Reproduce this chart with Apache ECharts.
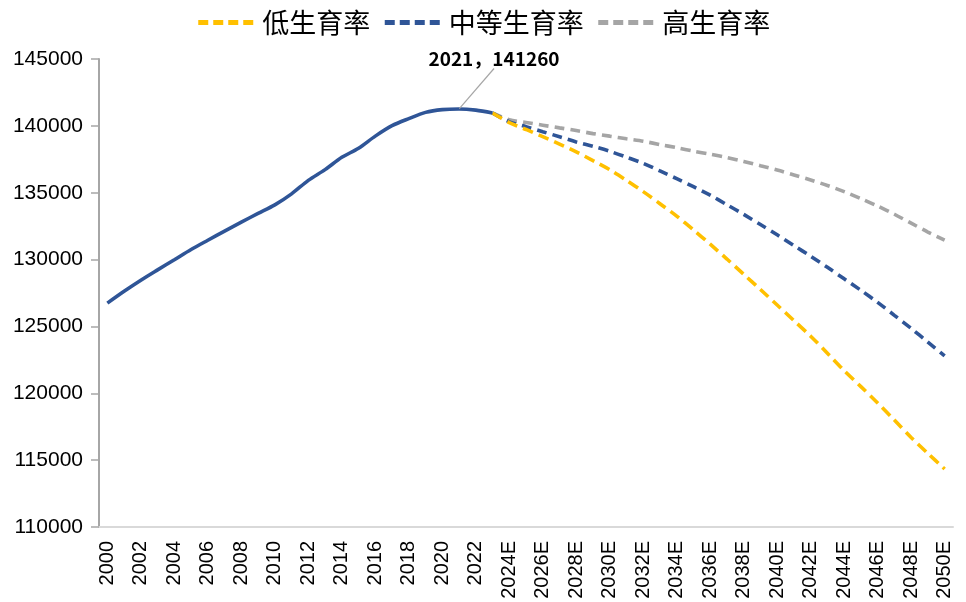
<!DOCTYPE html>
<html>
<head>
<meta charset="utf-8">
<script src="https://cdn.jsdelivr.net/npm/echarts@6/dist/echarts.min.js"></script>
<style>
  html, body { margin: 0; padding: 0; background: #ffffff; }
  #chart { width: 966px; height: 602px; }
</style>
</head>
<body>
<div id="chart"></div>
<script>
// 年份类目（2024 年起为预测值）
const categories = [
  '2000','2001','2002','2003','2004','2005','2006','2007','2008','2009',
  '2010','2011','2012','2013','2014','2015','2016','2017','2018','2019',
  '2020','2021','2022','2023','2024E','2025E','2026E','2027E','2028E','2029E',
  '2030E','2031E','2032E','2033E','2034E','2035E','2036E','2037E','2038E','2039E',
  '2040E','2041E','2042E','2043E','2044E','2045E','2046E','2047E','2048E','2049E',
  '2050E'
];

// 2000–2023 年末总人口（万人）
const actualPopulation = [
  126743, 127627, 128453, 129227, 129988, 130756, 131448, 132129, 132802, 133450,
  134091, 134916, 135922, 136726, 137646, 138326, 139232, 140011, 140541, 141008,
  141212, 141260, 141175, 140967
];

// 三种生育率情景，2023–2050E
const lowFertility = [
  140967, 140250, 139730, 139190, 138640, 138060, 137400, 136720, 135920, 135080,
  134180, 133250, 132220, 131150, 130040, 128900, 127760, 126600, 125440, 124270,
  123000, 121700, 120500, 119280, 118000, 116700, 115500, 114340
];
const midFertility = [
  140967, 140300, 139940, 139560, 139190, 138800, 138470, 138100, 137660, 137200,
  136630, 136050, 135450, 134820, 134100, 133380, 132620, 131850, 131050, 130250,
  129420, 128560, 127700, 126800, 125830, 124850, 123830, 122790
];
const highFertility = [
  140967, 140450, 140250, 140050, 139850, 139650, 139420, 139230, 139030, 138850,
  138600, 138370, 138110, 137880, 137630, 137340, 137020, 136700, 136330, 135950,
  135540, 135080, 134560, 134000, 133390, 132720, 132060, 131460
];

const scenarioNames = ['低生育率', '中等生育率', '高生育率'];
const scenarioColors = ['#FFC000', '#2F5597', '#A5A5A5'];

// 峰值标注
const peakYear = '2021';
const peakValue = 141260;

// 纵轴刻度
const yMin = 110000, yMax = 145000, yStep = 5000;

const forecastStart = categories.indexOf('2023');
const pad = arr => new Array(forecastStart).fill(null).concat(arr);

const actualData = actualPopulation.map((v, i) => {
  if (categories[i] === peakYear) {
    return {
      value: v,
      symbolSize: 1,
      label: {
        show: true,
        formatter: peakYear + '，' + peakValue,
        fontFamily: 'Noto Sans CJK SC',
        fontWeight: 'bold',
        fontSize: 19,
        color: '#000000',
        padding: [0, 0, 7, 0]
      },
      labelLine: { show: true, lineStyle: { color: '#A6A6A6', width: 1.2 } }
    };
  }
  return v;
});

const dashed = (name, data, color, dash) => ({
  name: name,
  type: 'line',
  data: pad(data),
  smooth: 0.3,
  symbol: 'none',
  silent: true,
  lineStyle: { color: color, width: 3.6, type: dash, cap: 'butt' },
  itemStyle: { color: color },
  z: 2
});

const chart = echarts.init(document.getElementById('chart'), null, { renderer: 'canvas' });

chart.setOption({
  animation: false,
  backgroundColor: '#ffffff',
  legend: {
    top: 4,
    left: 'center',
    itemWidth: 56,
    itemHeight: 16,
    itemGap: 12,
    data: scenarioNames.map((n, i) => ({
      name: n,
      itemStyle: { color: 'rgba(0,0,0,0)', borderWidth: 0 },
      lineStyle: { color: scenarioColors[i], width: 5, type: [10, 5] }
    })),
    textStyle: { fontFamily: 'Noto Sans CJK SC', fontSize: 27, color: '#000000', padding: [0, 0, 0, 3] },
    selectedMode: false
  },
  grid: { left: 99, right: 13, top: 59, bottom: 75, containLabel: false },
  xAxis: {
    type: 'category',
    data: categories,
    boundaryGap: true,
    axisLine: { show: true, lineStyle: { color: '#D9D9D9', width: 2 } },
    axisTick: { show: false },
    axisLabel: {
      interval: 1,
      rotate: 90,
      margin: 14,
      fontFamily: 'Liberation Sans',
      fontSize: 20,
      color: '#000000'
    },
    splitLine: { show: false }
  },
  yAxis: {
    type: 'value',
    min: yMin,
    max: yMax,
    interval: yStep,
    axisLine: { show: true, lineStyle: { color: '#A6A6A6', width: 2 } },
    axisTick: { show: true, length: 8, lineStyle: { color: '#A6A6A6', width: 1.5 } },
    axisLabel: {
      margin: 16,
      formatter: v => String(v),
      fontFamily: 'Liberation Sans',
      fontSize: 21,
      color: '#000000'
    },
    splitLine: { show: false }
  },
  series: [
    dashed(scenarioNames[2], highFertility, scenarioColors[2], [10, 6]),
    dashed(scenarioNames[1], midFertility, scenarioColors[1], [10, 6]),
    dashed(scenarioNames[0], lowFertility, scenarioColors[0], [11, 6]),
    {
      name: '实际',
      type: 'line',
      data: actualData,
      smooth: 0.3,
      symbol: 'circle',
      symbolSize: 0,
      showSymbol: true,
      silent: true,
      lineStyle: { color: '#2F5597', width: 3.6 },
      itemStyle: { color: 'rgba(0,0,0,0)' },
      labelLayout: { dx: 35, dy: -28 },
      z: 3
    }
  ]
});
</script>
</body>
</html>
